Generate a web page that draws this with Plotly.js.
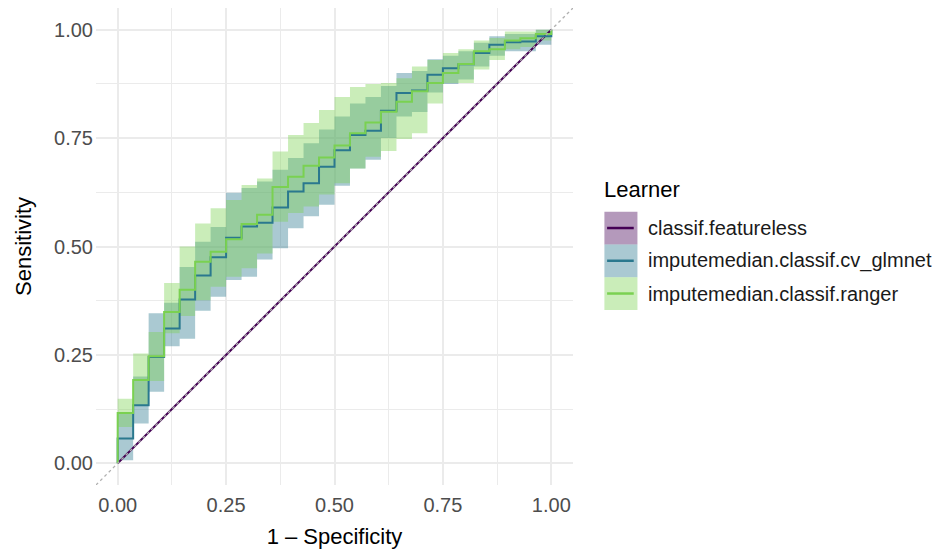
<!DOCTYPE html>
<html>
<head>
<meta charset="utf-8">
<script src="https://cdn.plot.ly/plotly-3.0.1.min.js"></script>
<style>html,body{margin:0;padding:0;background:#fff;}#chart{width:940px;height:550px;}</style>
</head>
<body>
<div id="chart"></div>
<script>
// ---- data ----
const learners = ['classif.featureless', 'imputemedian.classif.cv_glmnet', 'imputemedian.classif.ranger'];

// start of each averaged step (1 - specificity)
const fpr = [0.0000,0.0357,0.0714,0.1071,0.1429,0.1786,0.2143,0.2500,0.2857,0.3214,0.3571,0.3929,0.4286,0.4643,
             0.5000,0.5357,0.5714,0.6071,0.6429,0.6786,0.7143,0.7500,0.7857,0.8214,0.8571,0.8929,0.9286,0.9643];

const glmnetTpr = [0.057,0.134,0.245,0.311,0.378,0.433,0.475,0.520,0.546,0.555,0.590,0.627,0.646,0.684,
                   0.722,0.757,0.767,0.813,0.854,0.860,0.896,0.911,0.920,0.946,0.965,0.971,0.973,0.985];
const glmnetLo  = [0.007,0.092,0.165,0.270,0.287,0.352,0.384,0.423,0.430,0.470,0.496,0.542,0.570,0.596,
                   0.640,0.680,0.700,0.750,0.800,0.810,0.855,0.875,0.885,0.915,0.940,0.950,0.950,0.965];
const glmnetHi  = [0.116,0.200,0.346,0.370,0.453,0.511,0.545,0.624,0.635,0.650,0.677,0.704,0.738,0.770,
                   0.800,0.830,0.845,0.870,0.900,0.905,0.932,0.940,0.950,0.970,0.985,0.990,0.990,1.000];

const rangerTpr = [0.116,0.192,0.247,0.349,0.400,0.465,0.488,0.517,0.552,0.573,0.637,0.661,0.686,0.705,
                   0.733,0.761,0.786,0.811,0.834,0.858,0.877,0.900,0.921,0.950,0.955,0.975,0.980,0.990];
const rangerLo  = [0.084,0.134,0.190,0.300,0.340,0.376,0.407,0.430,0.450,0.484,0.557,0.577,0.592,0.620,
                   0.646,0.680,0.707,0.720,0.748,0.761,0.830,0.877,0.877,0.908,0.930,0.955,0.960,0.975];
const rangerHi  = [0.149,0.253,0.303,0.416,0.500,0.553,0.588,0.607,0.642,0.657,0.719,0.757,0.785,0.815,
                   0.845,0.868,0.875,0.877,0.888,0.915,0.930,0.946,0.955,0.975,0.981,0.996,0.996,1.000];

const featurelessFpr = [0, 1];
const featurelessTpr = [0, 1];

const tickVals = [0, 0.25, 0.5, 0.75, 1];
const tickText = ['0.00', '0.25', '0.50', '0.75', '1.00'];

// ---- styling ----
const FONT = '"Liberation Sans", Arial, sans-serif';
const lineCol = ['#440154', '#2A788E', '#7AD151'];
const fillCol = ['rgba(68,1,84,0.4)', 'rgba(42,120,142,0.4)', 'rgba(122,209,81,0.4)'];

function stepLine(x, y) {
  return { x: [0].concat(x).concat([1]), y: [0].concat(y).concat([1]) };
}
function bandPoly(x, lo, hi) {
  const px = [], py = [];
  for (let k = 0; k < x.length; k++) {
    const x1 = k + 1 < x.length ? x[k + 1] : 1;
    px.push(x[k], x1); py.push(hi[k], hi[k]);
  }
  for (let k = x.length - 1; k >= 0; k--) {
    const x1 = k + 1 < x.length ? x[k + 1] : 1;
    px.push(x1, x[k]); py.push(lo[k], lo[k]);
  }
  return { x: px, y: py };
}

const gBand = bandPoly(fpr, glmnetLo, glmnetHi);
const rBand = bandPoly(fpr, rangerLo, rangerHi);
const gLine = stepLine(fpr, glmnetTpr);
const rLine = stepLine(fpr, rangerTpr);

const traces = [
  { x: gBand.x, y: gBand.y, type: 'scatter', mode: 'lines', fill: 'toself', fillcolor: fillCol[1],
    line: { width: 0 }, hoverinfo: 'skip', showlegend: false },
  { x: rBand.x, y: rBand.y, type: 'scatter', mode: 'lines', fill: 'toself', fillcolor: fillCol[2],
    line: { width: 0 }, hoverinfo: 'skip', showlegend: false },
  { x: featurelessFpr, y: featurelessTpr, type: 'scatter', mode: 'lines', name: learners[0],
    line: { color: lineCol[0], width: 2 }, showlegend: false },
  { x: gLine.x, y: gLine.y, type: 'scatter', mode: 'lines', name: learners[1],
    line: { color: lineCol[1], width: 2, shape: 'hv' }, showlegend: false },
  { x: rLine.x, y: rLine.y, type: 'scatter', mode: 'lines', name: learners[2],
    line: { color: lineCol[2], width: 2, shape: 'hv' }, showlegend: false },
  { x: [-0.05, 1.05], y: [-0.05, 1.05], type: 'scatter', mode: 'lines',
    line: { color: '#B0B0B0', width: 1.3, dash: 'dot' }, hoverinfo: 'skip', showlegend: false }
];

// plot area in pixels
const L = 96.35, R = 572.65, T = 8.35, B = 484.65;
const W = R - L, H = B - T;
const xp = px => (px - L) / W;
const yp = py => (B - py) / H;

const shapes = [], annotations = [];
annotations.push({ xref: 'paper', yref: 'paper', x: xp(602), y: yp(190), xanchor: 'left', yanchor: 'middle',
  text: 'Learner', showarrow: false, font: { family: FONT, size: 22, color: '#000' } });
const keyTop = 211.7, keyH = 32.7;
for (let i = 0; i < learners.length; i++) {
  const y0 = keyTop + i * keyH, y1 = y0 + keyH, yc = (y0 + y1) / 2;
  shapes.push({ type: 'rect', xref: 'paper', yref: 'paper', x0: xp(604), x1: xp(637), y0: yp(y1), y1: yp(y0),
    fillcolor: fillCol[i], line: { width: 0 }, layer: 'above' });
  shapes.push({ type: 'line', xref: 'paper', yref: 'paper', x0: xp(606.7), x1: xp(633.3), y0: yp(yc), y1: yp(yc),
    line: { color: lineCol[i], width: 2.5 }, layer: 'above' });
  annotations.push({ xref: 'paper', yref: 'paper', x: xp(646), y: yp(yc), xanchor: 'left', yanchor: 'middle',
    text: learners[i], showarrow: false, font: { family: FONT, size: 20, color: '#1A1A1A' } });
}

const axisCommon = {
  range: [-0.05, 1.05], tickmode: 'array', tickvals: tickVals, ticktext: tickText,
  showgrid: true, gridcolor: '#EBEBEB', gridwidth: 2, zeroline: false, showline: false, ticks: '',
  tickfont: { family: FONT, size: 20, color: '#4D4D4D' },
  minor: { tickmode: 'array', tickvals: [0.125, 0.375, 0.625, 0.875], showgrid: true, gridcolor: '#EBEBEB', gridwidth: 1.2 }
};

const layout = {
  width: 940, height: 550,
  margin: { l: L, r: 940 - R, t: T, b: 550 - B, pad: 0 },
  paper_bgcolor: '#fff', plot_bgcolor: '#fff',
  showlegend: false,
  font: { family: FONT, color: '#000' },
  xaxis: Object.assign({}, axisCommon, {
    ticklabelstandoff: 6,
    title: { text: '1 – Specificity', font: { family: FONT, size: 22, color: '#000' }, standoff: 13 }
  }),
  yaxis: Object.assign({}, axisCommon, {
    ticklabelstandoff: 2,
    title: { text: 'Sensitivity', font: { family: FONT, size: 22, color: '#000' }, standoff: 16 }
  }),
  shapes: shapes,
  annotations: annotations
};

Plotly.newPlot('chart', traces, layout, { staticPlot: true, displayModeBar: false });
</script>
</body>
</html>
